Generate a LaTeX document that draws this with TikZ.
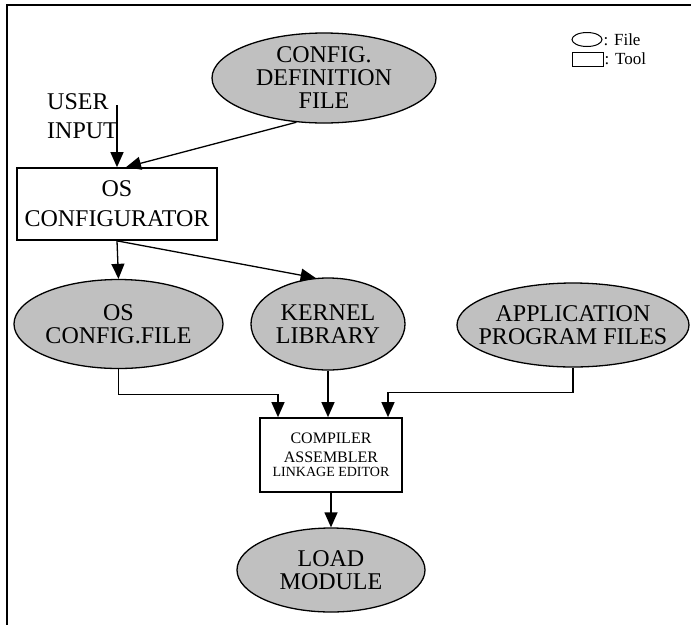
\documentclass[tikz,border=0pt]{standalone}
\usepackage{fontspec}
\setmainfont{Liberation Serif}
\usetikzlibrary{shapes.geometric,arrows.meta}
\definecolor{filegray}{RGB}{192,192,192}
\newcommand{\bigtxt}{\fontsize{24}{23}\selectfont}

\begin{document}
\begin{tikzpicture}[x=1pt, y=-1pt,
  file/.style={ellipse, draw, fill=filegray, line width=1.3pt, inner sep=0pt, align=center, font=\bigtxt},
  tool/.style={rectangle, draw, line width=1.7pt, inner sep=0pt, align=center},
  conn/.style={-{Triangle[length=15pt,width=13pt]}, line width=1.3pt}]
  \useasboundingbox (0,0) rectangle (691,625);
  \def\rowy{324} % y of the file row (px)

  % frame
  \draw[line width=1.6pt] (691,5) -- (7,5) -- (7,625);

  % legend
  \node[ellipse, draw, line width=1pt, minimum width=30pt, minimum height=14pt, inner sep=0pt] (lgfile) at (587,39.5) {};
  \node[anchor=west, inner sep=1pt, font=\fontsize{17}{17}\selectfont] (lgfiletxt) at (lgfile.east) {: File};
  \node[draw, line width=1pt, minimum width=31pt, minimum height=14pt, inner sep=0pt] (lgtool) at (587.5,59) {};
  \node[anchor=west, inner sep=1pt, font=\fontsize{17}{17}\selectfont] (lgtooltxt) at (lgtool.east) {: Tool};

  \node[file, minimum width=224pt, minimum height=90pt] (cfgdef) at (324,78) {CONFIG.\\DEFINITION\\FILE};
  \node[anchor=west, align=left, inner sep=0pt, font=\fontsize{24}{29}\selectfont] (userin) at (47,116) {USER\\INPUT};
  \coordinate (uin) at (117,105);
  \node[tool, minimum width=200pt, minimum height=72pt, font=\fontsize{24}{30}\selectfont] (oscfg) at (117,204) {OS\\CONFIGURATOR};

  \node[file, minimum width=209pt, minimum height=89pt] (oscfile) at (118.5,\rowy) {OS\\CONFIG.FILE};
  \node[file, minimum width=154pt, minimum height=92pt] (kernel) at (328,\rowy) {KERNEL\\LIBRARY};
  \node[file, minimum width=232pt, minimum height=84pt, inner xsep=-40pt] (appfile) at (573,\rowy+1) {APPLICATION\\PROGRAM FILES};

  \node[tool, minimum width=142pt, minimum height=74pt, font=\fontsize{16}{19}\selectfont] (compiler) at (331,455) {COMPILER\\ASSEMBLER\\[-5pt]{\fontsize{14}{14}\selectfont LINKAGE EDITOR}};
  \node[file, minimum width=188pt, minimum height=84pt] (load) at (331,570) {LOAD\\MODULE};

  % connectors
  \draw[conn] (uin) -- (uin |- oscfg.north);
  \draw[conn] (cfgdef.238) -- ([xshift=9pt]oscfg.north);
  \draw[conn] (oscfg.south) -- (oscfile.north);
  \draw[conn] (oscfg.south) -- (kernel.105);
  \draw[conn] (kernel.south) -- (kernel.south |- compiler.north);
  \foreach \src/\dx in {oscfile/-53, appfile/57}
    \draw[conn] (\src.south) -- ++(0,25) -| ([xshift=\dx pt]compiler.north);
  \draw[conn] (compiler.south) -- (load.north);
\end{tikzpicture}
\end{document}
